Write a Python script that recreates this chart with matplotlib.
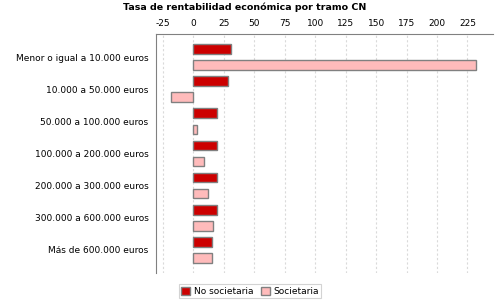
import numpy as np
import matplotlib
matplotlib.use('Agg')
import matplotlib.pyplot as plt

# Data
categories = ['Menor o igual a 10.000 euros', '10.000 a 50.000 euros',
              '50.000 a 100.000 euros', '100.000 a 200.000 euros',
              '200.000 a 300.000 euros', '300.000 a 600.000 euros',
              'Más de 600.000 euros']
no_societaria = [31.2, 28.0, 19.7, 19.7, 19.7, 19.7, 15.6]
societaria = [232.0, -18.6, 2.5, 9.0, 11.8, 16.4, 15.6]
xticks = [-25, 0, 25, 50, 75, 100, 125, 150, 175, 200, 225]

y = np.arange(len(categories))

fig = plt.figure(figsize=(5, 3), dpi=100)
ax = fig.add_axes([0.311, 0.09, 0.675, 0.797])

edge = '#808080'
ax.barh(y - 0.25, no_societaria, height=0.3, color='#CC0000', edgecolor=edge,
        linewidth=1, label='No societaria', zorder=3)
ax.barh(y + 0.25, societaria, height=0.3, color='#FFBBBB', edgecolor=edge,
        linewidth=1, label='Societaria', zorder=3)

ax.set_xlim(-31.2, 246)
ax.set_ylim(6.72, -0.72)
ax.set_yticks(y)
ax.set_yticklabels(categories, fontsize=6.5)
ax.set_xticks(xticks)
ax.set_xticklabels([str(t) for t in xticks], fontsize=6.5)
ax.xaxis.tick_top()
ax.tick_params(axis='both', length=0, pad=4)
ax.tick_params(axis='y', pad=5)

ax.grid(axis='x', color='#dadada', linestyle=(0, (2, 2)), linewidth=0.8, zorder=0)

for side in ['right', 'bottom']:
    ax.spines[side].set_visible(False)
ax.spines['top'].set_color(edge)
ax.spines['left'].set_color(edge)

fig.suptitle('Tasa de rentabilidad económica por tramo CN', fontsize=6.8,
             fontweight='bold', x=0.49, y=0.99)

leg = fig.legend(loc='lower center', bbox_to_anchor=(0.5, -0.01), ncol=2,
                 fontsize=6.5, frameon=True, fancybox=False, handlelength=1.0,
                 handleheight=1.0, handletextpad=0.4, columnspacing=0.8,
                 borderpad=0.3)
leg.get_frame().set_edgecolor('#c8c8c8')
leg.get_frame().set_linewidth(0.8)

fig.savefig('out.png', dpi=100)
